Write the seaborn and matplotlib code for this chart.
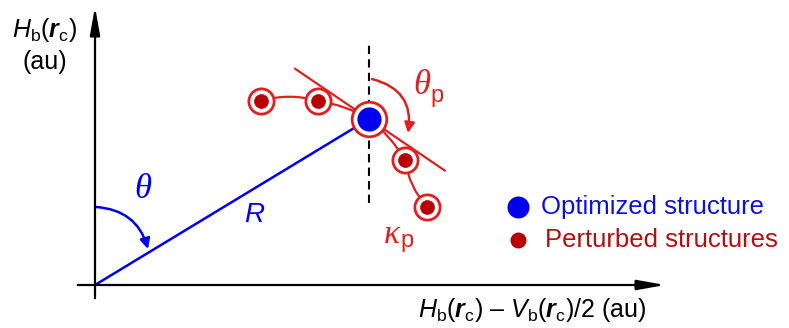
import matplotlib
matplotlib.use("Agg")
import matplotlib.pyplot as plt
import seaborn as sns
import pandas as pd
from matplotlib.patches import FancyArrowPatch

sns.set_theme(style="white")
plt.rcParams['font.family'] = ['Liberation Sans', 'DejaVu Sans']
plt.rcParams['mathtext.fontset'] = 'custom'
plt.rcParams['mathtext.rm'] = 'Liberation Sans'
plt.rcParams['mathtext.it'] = 'Liberation Sans:italic'
plt.rcParams['mathtext.bf'] = 'Liberation Sans:bold'
plt.rcParams['mathtext.bfit'] = 'Liberation Sans:bold:italic'

# ---- data (schematic units, origin at the axes' crossing) ----
optimized_x = [274]
optimized_y = [166]
perturbed_x = [166, 223, 310, 332]
perturbed_y = [184, 184, 125, 78]
legend_labels = ["Optimized structure", "Perturbed structures"]
x_label = r"$H_\mathrm{b}(\boldsymbol{r}_\mathrm{c})$ – $V_\mathrm{b}(\boldsymbol{r}_\mathrm{c})$/2 (au)"
y_label_1 = r"$H_\mathrm{b}(\boldsymbol{r}_\mathrm{c})$"
y_label_2 = "(au)"

BLUE = "#0000ee"
RED = "#e02020"
DRED = "#b80000"
TXTRED = "#b01010"
GREEK = dict(family=["Liberation Serif", "DejaVu Serif"], style="italic")

fig = plt.figure(figsize=(7.89, 3.28), dpi=100)
ax = fig.add_axes([0, 0, 1, 1])
ax.set_xlim(-95, 694)
ax.set_ylim(-43, 285)
ax.axis("off")

# axes arrows
ax.annotate("", xy=(0, 281), xytext=(0, -16),
            arrowprops=dict(arrowstyle="-|>,head_length=1.4,head_width=0.25", color="black", lw=1.6))
ax.annotate("", xy=(573, 0), xytext=(-20, 0),
            arrowprops=dict(arrowstyle="-|>,head_length=1.4,head_width=0.25", color="black", lw=1.6))

# R line
sns.lineplot(x=[0, optimized_x[0]], y=[0, optimized_y[0]], color=BLUE, lw=1.8, ax=ax, sort=False)

# dashed vertical
ax.plot([optimized_x[0]] * 2, [82, 241], color="black", lw=1.5, ls=(0, (4, 2.5)))

# tangent line
slope = -0.68
ax.plot([200, 350], [optimized_y[0] + slope * (200 - optimized_x[0]),
                     optimized_y[0] + slope * (350 - optimized_x[0])], color=RED, lw=1.6)

# smooth curve through the structures
chain = [(perturbed_x[0], perturbed_y[0]), (perturbed_x[1], perturbed_y[1]),
         (optimized_x[0], optimized_y[0]), (perturbed_x[2], perturbed_y[2]),
         (perturbed_x[3], perturbed_y[3])]
rads = [-0.15, -0.1, -0.1, 0.15]
for (p0, p1, r) in zip(chain[:-1], chain[1:], rads):
    ax.add_patch(FancyArrowPatch(p0, p1, connectionstyle=f"arc3,rad={r}",
                                 arrowstyle="-", color=RED, lw=1.6, shrinkA=0, shrinkB=0))

# theta arc
ax.add_patch(FancyArrowPatch((1, 78), (53, 36), connectionstyle="arc3,rad=-0.35",
                             arrowstyle="-|>,head_length=6,head_width=3", color=BLUE, lw=1.8,
                             shrinkA=0, shrinkB=0))
# theta_p arc
ax.add_patch(FancyArrowPatch((277, 206), (313, 152), connectionstyle="arc3,rad=-0.45",
                             arrowstyle="-|>,head_length=6,head_width=3", color=RED, lw=1.8,
                             shrinkA=0, shrinkB=0))

# points
dfp = pd.DataFrame({"x": perturbed_x, "y": perturbed_y})
dfo = pd.DataFrame({"x": optimized_x, "y": optimized_y})
sns.scatterplot(data=dfp, x="x", y="y", s=330, facecolor="white", edgecolor=RED, linewidth=2, ax=ax, zorder=5)
sns.scatterplot(data=dfp, x="x", y="y", s=100, color=DRED, edgecolor=DRED, linewidth=0.5, ax=ax, zorder=6)
sns.scatterplot(data=dfo, x="x", y="y", s=620, facecolor="white", edgecolor=RED, linewidth=2, ax=ax, zorder=5)
sns.scatterplot(data=dfo, x="x", y="y", s=260, color=BLUE, edgecolor=BLUE, ax=ax, zorder=6)

# legend (manual)
ax.scatter([423], [78], s=220, color=BLUE, zorder=6)
ax.scatter([423], [45], s=110, color=DRED, zorder=6)
ax.text(446, 78, legend_labels[0], color="#1010dd", fontsize=18.5, va="center", ha="left")
ax.text(450, 45, legend_labels[1], color=TXTRED, fontsize=18.5, va="center", ha="left")

# greek labels
ax.text(48, 95, "θ", color=BLUE, fontsize=25, ha="center", va="center", **GREEK)
ax.text(160, 70, r"$R$", color=BLUE, fontsize=20, ha="center", va="center")
ax.text(327, 200, "θ", color=RED, fontsize=25, ha="center", va="center", **GREEK)
ax.text(342, 189, "p", color=RED, fontsize=17, ha="center", va="center")
ax.text(297, 50, "κ", color=RED, fontsize=24, ha="center", va="center", **GREEK)
ax.text(312, 44, "p", color=RED, fontsize=17, ha="center", va="center")

# axis labels
ax.text(-50, 255, y_label_1, fontsize=18, ha="center", va="center", color="black")
ax.text(-50, 223, y_label_2, fontsize=18, ha="center", va="center", color="black")
ax.text(437, -25, x_label, fontsize=18, ha="center", va="center", color="black")

fig.savefig("out.png", dpi=100)
